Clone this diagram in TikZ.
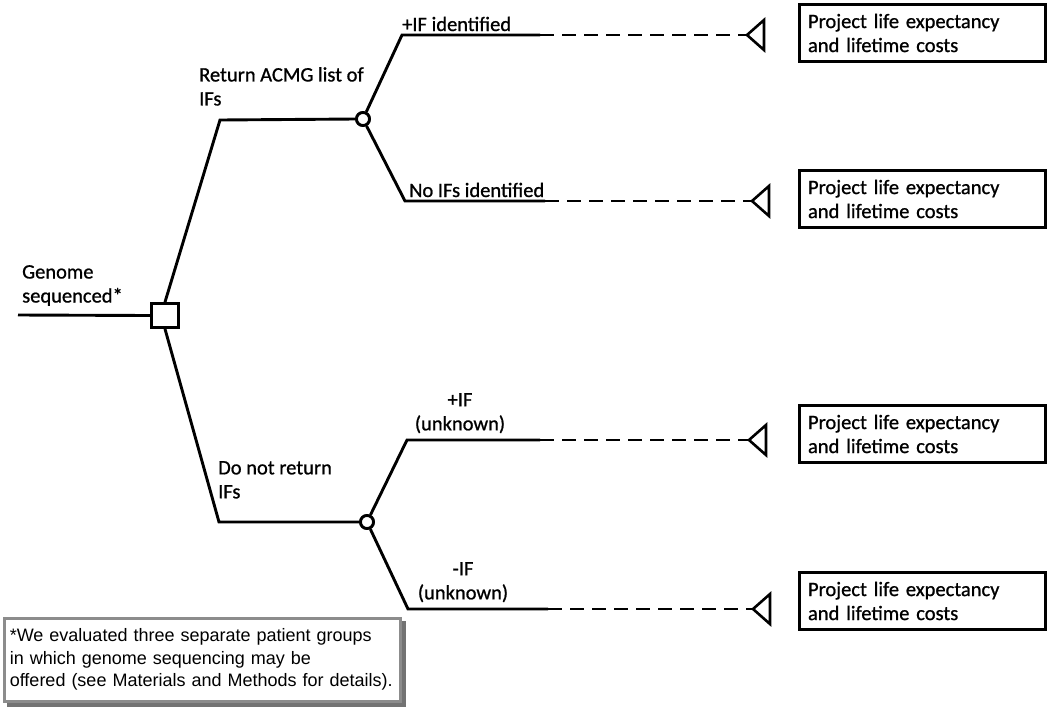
\documentclass[tikz,border=0pt]{standalone}
\usepackage{fontspec}
\setmainfont{Carlito}[FakeBold=0.9,AutoFakeBold=0.9]
\newfontfamily\arialf{Liberation Sans}
\newfontfamily\heavyf{Carlito}[FakeBold=0.9]
\begin{document}
\begin{tikzpicture}[x=1pt,y=-1pt,
  line/.style={line width=2.9pt, line join=miter},
  dline/.style={line width=2.9pt, dash pattern=on 14pt off 8pt},
  lbl/.style={font=\heavyf\fontsize{20.5}{24}\selectfont, inner sep=0pt, align=left},
  decision/.style={draw, line width=2.9pt, fill=white, minimum width=27pt, minimum height=24pt, inner sep=0pt},
  chance/.style={draw, circle, line width=2.8pt, fill=white, minimum size=13pt, inner sep=0pt},
  term/.style={line width=2.6pt, line join=miter, fill=white},
  outbox/.style={draw, line width=3pt, minimum width=246pt, minimum height=57pt, inner sep=0pt,
    font=\heavyf\fontsize{20.5}{24}\selectfont, align=left, text width=228pt},
  note/.style={draw=black!45, line width=2.6pt, fill=white, minimum width=396pt, minimum height=83pt,
    inner sep=0pt, font=\arialf\fontsize{18}{22.5}\selectfont, align=left, text width=385pt}
]
\useasboundingbox[fill=white] (0,0) rectangle (1050,713);

% decision and chance nodes
\coordinate (start) at (18,315);
\node[decision] (sq) at (165,315.5) {};
\node[chance] (c1) at (363,119) {};
\node[chance] (c2) at (367,522) {};

% elbow coordinates
\coordinate (e1) at (220,120);
\coordinate (e2) at (219,522);
\coordinate (a1) at (402,35);  \coordinate (s1) at (540,35);
\coordinate (a2) at (405,201); \coordinate (s2) at (545,201);
\coordinate (a3) at (407,440); \coordinate (s3) at (540,440);
\coordinate (a4) at (408,609); \coordinate (s4) at (548,609);

% terminal tips
\coordinate (t1) at (747,35);
\coordinate (t2) at (752,201);
\coordinate (t3) at (749,440);
\coordinate (t4) at (753,609);

% connectors
\draw[line] (start) -- (sq.west);
\draw[line] (sq.north) -- (e1) -- (c1.west);
\draw[line] (sq.south) -- (e2) -- (c2.west);
\draw[line] (c1) -- (a1) -- (s1);
\draw[line] (c1) -- (a2) -- (s2);
\draw[line] (c2) -- (a3) -- (s3);
\draw[line] (c2) -- (a4) -- (s4);
\draw[dline] (s1) -- (t1);
\draw[dline] (s2) -- (t2);
\draw[dline] (s3) -- (t3);
\draw[dline] (s4) -- (t4);
\node[chance] at (c1) {};
\node[chance] at (c2) {};
\node[decision] at (sq) {};

% terminal triangles
\foreach \t in {t1,t2,t3,t4}{
  \draw[term] (\t) -- ++(17,-15) -- ++(0,30) -- cycle;
}

% outcome boxes
\node[outbox] (b1) at (922,33) {Project life expectancy\\and lifetime costs};
\node[outbox] (b2) at (922,199) {Project life expectancy\\and lifetime costs};
\node[outbox] (b3) at (922,434) {Project life expectancy\\and lifetime costs};
\node[outbox] (b4) at (922,601) {Project life expectancy\\and lifetime costs};

% labels
\node[lbl, anchor=north west] (lg) at (22,265) {Genome\\sequenced*};
\node[lbl, anchor=north west] (lr) at (199,67) {Return ACMG list of\\IFs};
\node[lbl, anchor=north west] (ld) at (218,461) {Do not return\\IFs};
\node[lbl, anchor=base west] (l1) at (402,31) {+IF identified};
\node[lbl, anchor=base west] (l2) at (409,197) {No IFs identified};
\node[lbl, anchor=north, align=center] (l3) at (460,393) {+IF\\(unknown)};
\node[lbl, anchor=north, align=center] (l4) at (463,562) {-IF\\(unknown)};

% footnote box with shadow
\fill[black!55] (7,621) rectangle (406,707);
\node[note, anchor=north west] (fn) at (3,617) {*We evaluated three separate patient groups\\in which genome sequencing may be\\offered (see Materials and Methods for details).};
\end{tikzpicture}
\end{document}
